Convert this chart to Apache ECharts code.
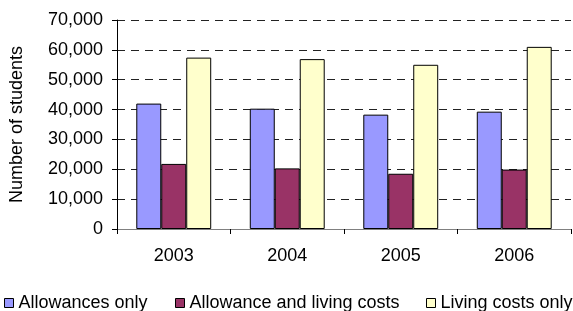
<!DOCTYPE html>
<html>
<head>
<meta charset="utf-8">
<script src="https://cdn.jsdelivr.net/npm/echarts@6/dist/echarts.min.js"></script>
<style>
  html, body { margin: 0; padding: 0; background: #fff; }
  #main { width: 573px; height: 311px; }
</style>
</head>
<body>
<div id="main"></div>
<script>
// data
var years = ['2003', '2004', '2005', '2006'];
var allowancesOnly = [42000, 40300, 38300, 39300];
var allowanceAndLiving = [21800, 20300, 18500, 19900];
var livingOnly = [57400, 56900, 55000, 61000];
var seriesNames = ['Allowances only', 'Allowance and living costs', 'Living costs only'];
var colors = ['#9999FF', '#993366', '#FFFFCC'];

var font = '"Liberation Sans", Arial, sans-serif';
var fontSize = 18;

function fmt(v) {
    return String(v).replace(/\B(?=(\d{3})+(?!\d))/g, ',');
}

function legendAt(name, left) {
    return {
        data: [name],
        left: left,
        top: 294,
        padding: 0,
        icon: 'rect',
        itemWidth: 9,
        itemHeight: 9,
        itemStyle: { borderColor: '#000', borderWidth: 1 },
        textStyle: { fontFamily: font, fontSize: fontSize, color: '#000' }
    };
}

function barSeries(name, values, color) {
    return {
        name: name,
        type: 'bar',
        data: values,
        barGap: '0%',
        barCategoryGap: '34%',
        itemStyle: { color: color, borderColor: '#000', borderWidth: 1 }
    };
}

var chart = echarts.init(document.getElementById('main'), null, { renderer: 'canvas' });

var option = {
    animation: false,
    color: colors,
    legend: [
        legendAt(seriesNames[0], 4),
        legendAt(seriesNames[1], 175),
        legendAt(seriesNames[2], 426)
    ],
    grid: { left: 113, right: 2, top: 20, bottom: 82 },
    xAxis: {
        type: 'category',
        data: years,
        axisLine: { lineStyle: { color: '#808080', width: 1 } },
        axisTick: { show: true, length: 5, lineStyle: { color: '#000' } },
        axisLabel: { fontFamily: font, fontSize: fontSize, color: '#000', margin: 18 }
    },
    yAxis: {
        type: 'value',
        min: 0,
        max: 70000,
        interval: 10000,
        name: 'Number of students',
        nameLocation: 'middle',
        nameGap: 91,
        nameTextStyle: { fontFamily: font, fontSize: fontSize, color: '#000' },
        axisLine: { show: true, lineStyle: { color: '#000' } },
        axisTick: { show: true, length: 5, lineStyle: { color: '#000' } },
        axisLabel: {
            fontFamily: font, fontSize: fontSize, color: '#000', margin: 14,
            formatter: fmt
        },
        splitLine: { lineStyle: { color: '#222', type: [8, 6] } }
    },
    series: [
        barSeries(seriesNames[0], allowancesOnly, colors[0]),
        barSeries(seriesNames[1], allowanceAndLiving, colors[1]),
        barSeries(seriesNames[2], livingOnly, colors[2])
    ]
};

chart.setOption(option);
</script>
</body>
</html>
